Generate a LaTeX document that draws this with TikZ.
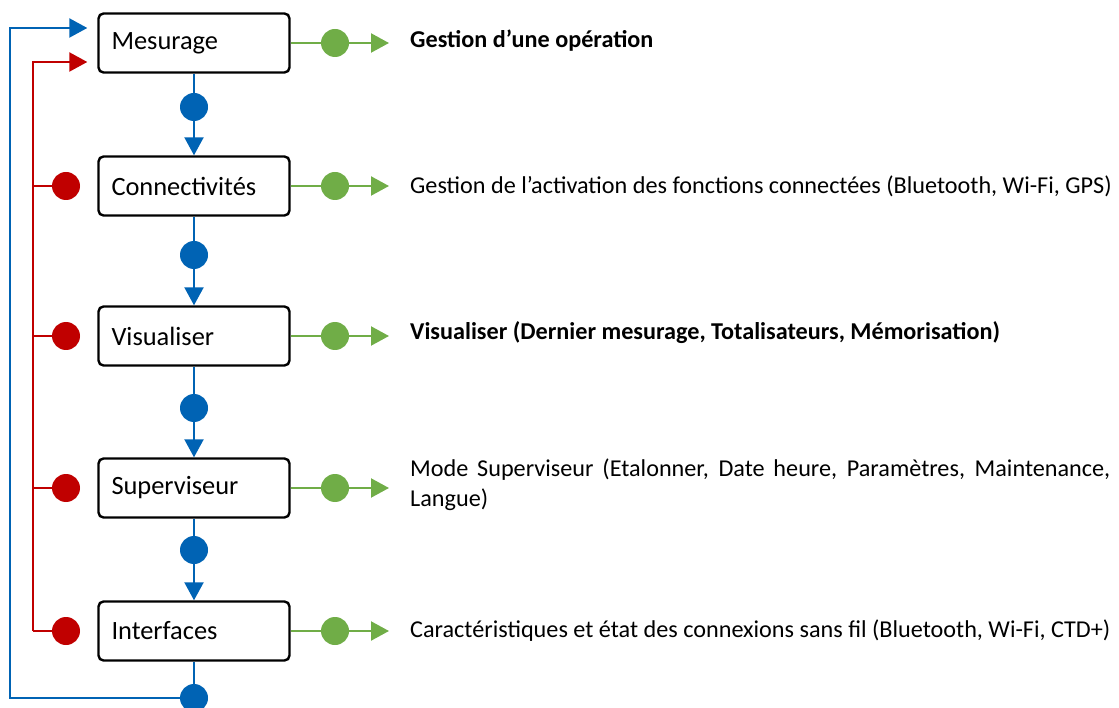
\documentclass[tikz,border=0pt]{standalone}
\usepackage{fontspec}
\setmainfont{Carlito}
\usetikzlibrary{arrows.meta}
\definecolor{bleu}{RGB}{0,99,180}
\definecolor{rouge}{RGB}{192,0,0}
\definecolor{vert}{RGB}{112,173,71}

\begin{document}
\begin{tikzpicture}[x=1pt,y=-1pt,
  etape/.style={draw,line width=2.4pt,rounded corners=5pt,minimum height=59pt,
    text width=165pt,inner xsep=13pt,align=left,font=\fontsize{26.4}{31}\selectfont},
  pastille/.style={circle,fill=#1,inner sep=0pt,minimum size=28pt},
  lien/.style={line width=2.2pt,draw=#1},
  pointe/.style={-{Triangle[length=18pt,width=19pt]}},
  texte/.style={anchor=west,inner sep=0pt,font=\fontsize{24.2}{30}\selectfont},
  gras/.style={texte,font=\fontsize{24.2}{30}\selectfont\bfseries}]
  \useasboundingbox (0,0) rectangle (1119,708);

  % etapes
  \foreach \i/\y/\lab in {1/43/Mesurage,2/186/Connectivités,3/336/Visualiser,
                          4/488/Superviseur,5/631/Interfaces}
  {
    \node[etape] (b\i) at (194,\y) {\lab};
    % sortie verte
    \node[pastille=vert] (g\i) at (335,\y) {};
    \coordinate (f\i) at (389,\y);
    \draw[lien=vert,pointe] (b\i) -- (g\i) -- (f\i);
  }

  % enchainement bleu
  \foreach \i/\y in {1/107,2/255,3/408,4/550}
  {
    \pgfmathtruncatemacro{\j}{\i+1}
    \node[pastille=bleu] (d\i) at (194,\y) {};
    \draw[lien=bleu,pointe] (b\i) -- (d\i) -- (b\j);
  }

  % retour rouge
  \coordinate (rl) at (33,62);
  \foreach \i in {2,...,5}
  {
    \node[pastille=rouge] (r\i) at (b\i -| 66,0) {};
    \draw[lien=rouge] (r\i) -- (r\i -| rl);
  }
  \draw[lien=rouge,pointe] (r5 -| rl) -- (rl) -- ([xshift=-10pt]b1.west |- rl);

  % retour bleu
  \coordinate (bl) at (10,28);
  \node[pastille=bleu] (db) at (194,698) {};
  \draw[lien=bleu] (b5) -- (db);
  \draw[lien=bleu,pointe] (db) -- (db -| bl) -- (bl) -- ([xshift=-10pt]b1.west |- bl);

  % textes
  \node[gras] (t1) at (410,41) {Gestion d’une opération};
  \node[texte] (t2) at (410,186) {Gestion de l’activation des fonctions connectées (Bluetooth, Wi-Fi, GPS)};
  \node[gras] (t3) at (410,333) {Visualiser (Dernier mesurage, Totalisateurs, Mémorisation)};
  \node[texte,text width=700pt,align=justify] (t4) at (410,485)
    {\hyphenpenalty=10000 Mode Superviseur (Etalonner, Date heure, Paramètres, Maintenance, Langue)};
  \node[texte] (t5) at (410,631) {Caractéristiques et état des connexions sans fil (Bluetooth, Wi-Fi, CTD+)};
\end{tikzpicture}
\end{document}
